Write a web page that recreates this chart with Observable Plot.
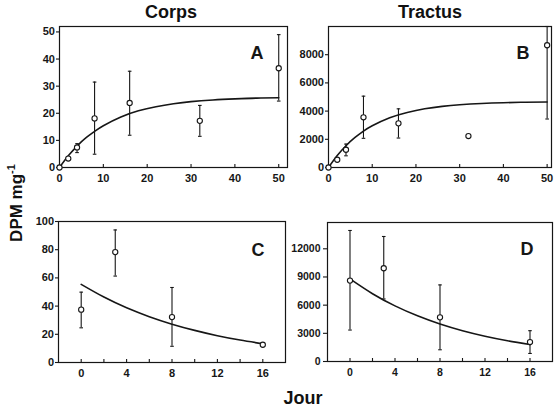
<!DOCTYPE html>
<html>
<head>
<meta charset="utf-8">
<script src="https://cdn.jsdelivr.net/npm/d3@7"></script>
<script src="https://cdn.jsdelivr.net/npm/@observablehq/plot@0.6"></script>
<style>
  body { margin: 0; background: #fff; }
  #wrap { position: relative; width: 560px; height: 410px; background: #fff;
          font-family: "Liberation Sans", Arial, Helvetica, sans-serif; color: #111; }
  .box { position: absolute; }
  #labels { position: absolute; left: 0; top: 0; pointer-events: none; }
</style>
</head>
<body>
<div id="wrap">
  <div class="box" id="pA" style="left:0px;top:0px"></div>
  <div class="box" id="pB" style="left:295px;top:0px"></div>
  <div class="box" id="pC" style="left:0px;top:195px"></div>
  <div class="box" id="pD" style="left:295px;top:195px"></div>
  <svg id="labels" width="560" height="410" font-family="Liberation Sans, Arial, Helvetica, sans-serif" font-weight="bold" fill="#111">
    <text x="171" y="18" text-anchor="middle" font-size="18">Corps</text>
    <text x="430" y="18" text-anchor="middle" font-size="18">Tractus</text>
    <text x="303" y="404" text-anchor="middle" font-size="18">Jour</text>
    <text transform="translate(22,203) rotate(-90)" text-anchor="middle" font-size="17">DPM mg<tspan font-size="11" dy="-7">-1</tspan></text>
  </svg>
</div>
<script>
// ---- Panel A : Corps, uptake (days 0-50) ----
const daysA = [0, 2, 4, 8, 16, 32, 50];
const corpsA = [0, 3.3, 7.4, 18.1, 23.8, 17.2, 36.6];
const corpsALow = [null, null, 5.5, 4.9, 11.9, 11.5, 24.5];
const corpsAHigh = [null, null, 8.8, 31.5, 35.5, 22.9, 49];
const fitDaysAB = [0, 2, 4, 6, 8, 10, 14, 18, 22, 26, 30, 35, 40, 45, 50];
const fitCorpsA = [0, 4.3, 7.9, 10.9, 13.3, 15.4, 18.6, 20.9, 22.4, 23.5, 24.3, 24.9, 25.3, 25.6, 25.7];

// ---- Panel B : Tractus, uptake ----
const daysB = [0, 2, 4, 8, 16, 32, 50];
const tractusB = [0, 550, 1260, 3560, 3130, 2230, 8670];
const tractusBLow = [null, null, 830, 2070, 2090, 2120, 3440];
const tractusBHigh = [null, null, 1660, 5060, 4160, 2340, 10000];
const fitTractusB = [0, 848, 1543, 2112, 2577, 2958, 3526, 3906, 4161, 4332, 4447, 4539, 4594, 4628, 4649];

// ---- Panel C : Corps, depuration (days 0-16) ----
const daysC = [0, 3, 8, 16];
const corpsC = [37.5, 78.3, 32.2, 12.6];
const corpsCLow = [24.6, 61.3, 11.5, null];
const corpsCHigh = [49.9, 94, 53.2, null];
const fitDaysCD = [0, 2, 4, 6, 8, 10, 12, 14, 16];
const fitCorpsC = [55.4, 46.4, 38.8, 32.5, 27.2, 22.8, 19.0, 15.9, 13.3];

// ---- Panel D : Tractus, depuration ----
const daysD = [0, 3, 8, 16];
const tractusD = [8615, 9930, 4700, 2070];
const tractusDLow = [3350, 6660, 1250, 855];
const tractusDHigh = [13950, 13310, 8155, 3280];
const fitTractusD = [8795, 7218, 5924, 4862, 3990, 3275, 2688, 2206, 1810];

// tick labels
const ticksXAB = [0, 10, 20, 30, 40, 50];
const ticksXCDLabels = [0, 4, 8, 12, 16];
const ticksXCDMarks = [0, 2, 4, 6, 8, 10, 12, 14, 16];
const ticksYA = [0, 10, 20, 30, 40, 50];
const ticksYB = [0, 2000, 4000, 6000, 8000];
const ticksYC = [0, 20, 40, 60, 80, 100];
const ticksYD = [0, 3000, 6000, 9000, 12000];

const INK = "#161616";
const plain = d3.format("d");
const capSymbol = {
  draw(ctx, size) {
    const w = Math.sqrt(size / Math.PI);
    ctx.moveTo(-w, 0);
    ctx.lineTo(w, 0);
  }
};

function panel(o) {
  const pts = o.days.map((d, i) => ({d, v: o.vals[i], lo: o.lo[i], hi: o.hi[i]}));
  const errs = pts.filter(p => p.lo != null);
  const fit = o.fitX.map((d, i) => ({d, v: o.fitY[i]}));
  return Plot.plot({
    width: o.w, height: o.h,
    marginLeft: o.m[0], marginRight: o.m[1], marginTop: o.m[2], marginBottom: o.m[3],
    x: {domain: o.xDomain, label: null},
    y: {domain: o.yDomain, label: null},
    style: {fontFamily: "Liberation Sans, Arial, Helvetica, sans-serif", fontSize: o.fs + "px",
            fontWeight: "bold", color: INK, background: "transparent", overflow: "visible"},
    marks: [
      Plot.axisY({ticks: o.yTicks, tickFormat: plain, tickSize: o.yts, tickPadding: o.ytp, label: null, strokeWidth: 1.1}),
      Plot.axisX({ticks: o.xLabels, tickFormat: plain, tickSize: 0, tickPadding: 7, label: null}),
      Plot.axisX({ticks: o.xMarks, tickSize: 3, dy: -3, text: null, label: null, strokeWidth: 1.1}),
      Plot.frame({stroke: INK, strokeWidth: 1.2}),
      Plot.lineY(fit, {x: "d", y: "v", curve: "natural", stroke: INK, strokeWidth: 1.6}),
      Plot.ruleX(errs, {x: "d", y1: "lo", y2: "hi", stroke: INK, strokeWidth: 1.1}),
      Plot.dot(errs, {x: "d", y: "lo", symbol: capSymbol, r: 1.8, stroke: INK, strokeWidth: 1.1}),
      Plot.dot(errs, {x: "d", y: "hi", symbol: capSymbol, r: 1.8, stroke: INK, strokeWidth: 1.1}),
      Plot.dot(pts, {x: "d", y: "v", r: 2.6, fill: "white", stroke: INK, strokeWidth: 1.1}),
      Plot.text([o.letter], {frameAnchor: "top-right", text: d => d, textAnchor: "end",
        dx: -o.ldx, dy: o.ldy, fontSize: 18, fontWeight: "bold", fill: INK})
    ]
  });
}

document.getElementById("pA").append(panel({
  days: daysA, vals: corpsA, lo: corpsALow, hi: corpsAHigh, fitX: fitDaysAB, fitY: fitCorpsA,
  xDomain: [0, 52], yDomain: [0, 52], xLabels: ticksXAB, xMarks: ticksXAB, yTicks: ticksYA,
  w: 295, h: 195, m: [59, 8, 26, 28], fs: 11, yts: 3, ytp: 1.5, letter: "A", ldx: 24, ldy: 20
}));
document.getElementById("pB").append(panel({
  days: daysB, vals: tractusB, lo: tractusBLow, hi: tractusBHigh, fitX: fitDaysAB, fitY: fitTractusB,
  xDomain: [0, 51], yDomain: [0, 10000], xLabels: ticksXAB, xMarks: ticksXAB, yTicks: ticksYB,
  w: 265, h: 195, m: [33, 9, 26, 28], fs: 11, yts: 3, ytp: 1.5, letter: "B", ldx: 22, ldy: 20
}));
document.getElementById("pC").append(panel({
  days: daysC, vals: corpsC, lo: corpsCLow, hi: corpsCHigh, fitX: fitDaysCD, fitY: fitCorpsC,
  xDomain: [-2, 18], yDomain: [0, 100], xLabels: ticksXCDLabels, xMarks: ticksXCDMarks, yTicks: ticksYC,
  w: 295, h: 195, m: [58, 10, 26, 28], fs: 11, yts: 3, ytp: 1.5, letter: "C", ldx: 21, ldy: 22
}));
document.getElementById("pD").append(panel({
  days: daysD, vals: tractusD, lo: tractusDLow, hi: tractusDHigh, fitX: fitDaysCD, fitY: fitTractusD,
  xDomain: [-2, 18], yDomain: [0, 14800], xLabels: ticksXCDLabels, xMarks: ticksXCDMarks, yTicks: ticksYD,
  w: 265, h: 195, m: [32, 8, 27, 29], fs: 10.5, yts: 4, ytp: 3, letter: "D", ldx: 19, ldy: 20
}));
</script>
</body>
</html>
